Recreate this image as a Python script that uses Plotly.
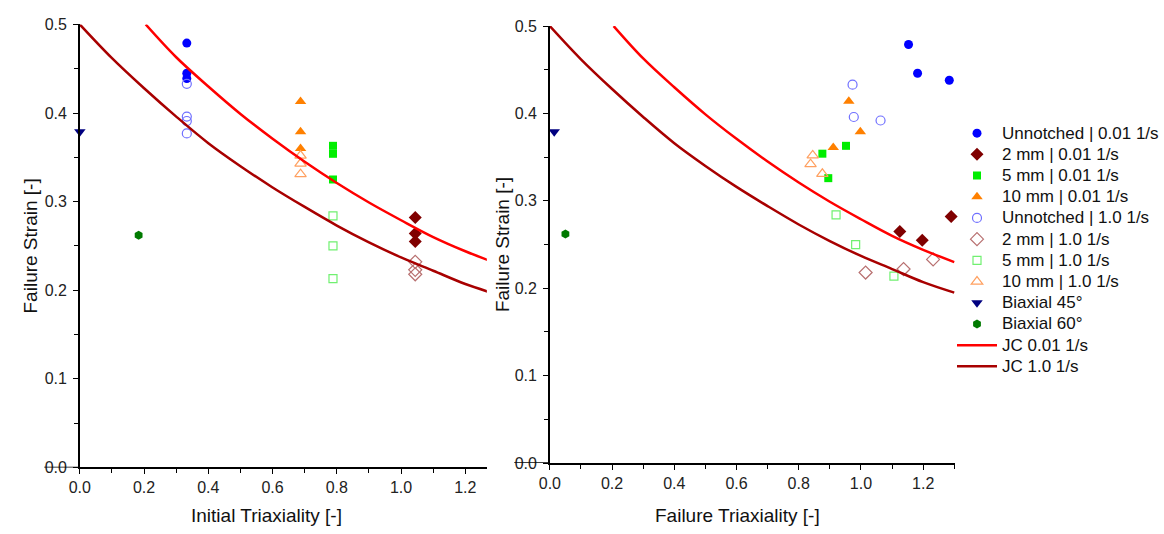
import plotly.graph_objects as go

# ---------------- data ----------------
# Left panel: initial triaxiality
L_un001_x = [0.333, 0.333, 0.333]
L_un001_y = [0.479, 0.445, 0.439]
L_d2_001_x = [1.044, 1.044, 1.044]
L_d2_001_y = [0.282, 0.264, 0.255]
L_d5_001_x = [0.788, 0.788, 0.788]
L_d5_001_y = [0.363, 0.354, 0.325]
L_d10_001_x = [0.687, 0.687, 0.687]
L_d10_001_y = [0.413, 0.379, 0.360]
L_un10_x = [0.333, 0.333, 0.333, 0.333]
L_un10_y = [0.433, 0.396, 0.391, 0.377]
L_d2_10_x = [1.044, 1.044, 1.044]
L_d2_10_y = [0.232, 0.223, 0.218]
L_d5_10_x = [0.788, 0.788, 0.788]
L_d5_10_y = [0.284, 0.250, 0.213]
L_d10_10_x = [0.687, 0.687, 0.687]
L_d10_10_y = [0.352, 0.343, 0.331]
L_bi45_x = [0.0]
L_bi45_y = [0.379]
L_bi60_x = [0.183]
L_bi60_y = [0.262]

# Right panel: failure triaxiality
R_un001_x = [1.153, 1.182, 1.284]
R_un001_y = [0.479, 0.446, 0.438]
R_d2_001_x = [1.125, 1.197, 1.290]
R_d2_001_y = [0.265, 0.255, 0.282]
R_d5_001_x = [0.876, 0.952, 0.895]
R_d5_001_y = [0.354, 0.363, 0.326]
R_d10_001_x = [0.961, 0.998, 0.911]
R_d10_001_y = [0.414, 0.379, 0.361]
R_un10_x = [0.973, 0.977, 1.063]
R_un10_y = [0.433, 0.396, 0.392]
R_d2_10_x = [1.015, 1.137, 1.232]
R_d2_10_y = [0.218, 0.222, 0.233]
R_d5_10_x = [0.920, 0.983, 1.106]
R_d5_10_y = [0.284, 0.250, 0.214]
R_d10_10_x = [0.845, 0.838, 0.876]
R_d10_10_y = [0.352, 0.342, 0.331]
R_bi45_x = [0.014]
R_bi45_y = [0.379]
R_bi60_x = [0.050]
R_bi60_y = [0.262]

# Johnson-Cook curves
jc001_eta = [0.205, 0.3, 0.4, 0.5, 0.6, 0.7, 0.8, 0.9, 1.0, 1.1, 1.2, 1.3]
jc001_eps = [0.500, 0.463, 0.430, 0.399, 0.371, 0.345, 0.321, 0.299, 0.279, 0.260, 0.244, 0.230]
jc10_eta = [0.0, 0.1, 0.2, 0.3, 0.4, 0.5, 0.6, 0.7, 0.8, 0.9, 1.0, 1.1, 1.2, 1.3]
jc10_eps = [0.500, 0.462, 0.428, 0.396, 0.366, 0.340, 0.316, 0.294, 0.273, 0.254, 0.237, 0.222, 0.207, 0.195]

x_titles = ["Initial Triaxiality [-]", "Failure Triaxiality [-]"]
y_title = "Failure Strain [-]"

# ---------------- styles ----------------
series = [
    ("Unnotched | 0.01 1/s", "un001", dict(symbol="circle", size=9, color="#0000FF")),
    ("2 mm | 0.01 1/s", "d2_001", dict(symbol="diamond", size=10, color="#800000")),
    ("5 mm | 0.01 1/s", "d5_001", dict(symbol="square", size=8, color="#00EE00")),
    ("10 mm | 0.01 1/s", "d10_001", dict(symbol="triangle-up", size=10, color="#FF8000")),
    ("Unnotched | 1.0 1/s", "un10", dict(symbol="circle-open", size=9, color="#7070FF", line=dict(width=1.2))),
    ("2 mm | 1.0 1/s", "d2_10", dict(symbol="diamond-open", size=10, color="#B87070", line=dict(width=1.2))),
    ("5 mm | 1.0 1/s", "d5_10", dict(symbol="square-open", size=8, color="#70F070", line=dict(width=1.2))),
    ("10 mm | 1.0 1/s", "d10_10", dict(symbol="triangle-up-open", size=10, color="#FFA060", line=dict(width=1.2))),
    ("Biaxial 45°", "bi45", dict(symbol="triangle-down", size=10, color="#000080")),
    ("Biaxial 60°", "bi60", dict(symbol="hexagon", size=9, color="#007A00")),
]

def big(s):
    return "<span style='font-size:17px'>" + s + "</span>"

data = dict(globals())

fig = go.Figure()
for name, key, mk in series:
    fig.add_trace(go.Scatter(x=data["L_" + key + "_x"], y=data["L_" + key + "_y"], mode="markers",
                             marker=mk, name=big(name), cliponaxis=False, xaxis="x", yaxis="y"))
for name, key, mk in series:
    fig.add_trace(go.Scatter(x=data["R_" + key + "_x"], y=data["R_" + key + "_y"], mode="markers",
                             marker=mk, name=name, cliponaxis=False, showlegend=False,
                             xaxis="x2", yaxis="y2"))

for xa, ya, show in (("x", "y", True), ("x2", "y2", False)):
    fig.add_trace(go.Scatter(x=jc001_eta, y=jc001_eps, mode="lines", line=dict(color="#FF0000", width=2.5, shape="spline"),
                             name=big("JC 0.01 1/s"), showlegend=show, xaxis=xa, yaxis=ya))
    fig.add_trace(go.Scatter(x=jc10_eta, y=jc10_eps, mode="lines", line=dict(color="#A80000", width=2.5, shape="spline"),
                             name=big("JC 1.0 1/s"), showlegend=show, xaxis=xa, yaxis=ya))

FONT = "Arial, 'Liberation Sans', sans-serif"
W, H = 1164, 534

def xax(domain, rng, anchor):
    return dict(domain=domain, range=rng, dtick=0.2, tick0=0, tickformat=".1f", anchor=anchor,
                showline=True, linecolor="black", linewidth=1.5, mirror=False,
                ticks="outside", ticklen=5, tickwidth=1.2, tickcolor="black",
                minor=dict(dtick=0.1, ticks="outside", ticklen=4, tickwidth=1.2, tickcolor="black"),
                showgrid=False, zeroline=False,
                tickfont=dict(family=FONT, size=16, color="#222222"))

def yax(domain, anchor):
    return dict(domain=domain, range=[0, 0.5], dtick=0.1, tick0=0, tickformat=".1f",
                anchor=anchor, ticklabelstandoff=3,
                showline=True, linecolor="black", linewidth=1.5,
                ticks="outside", ticklen=5, tickwidth=1.2, tickcolor="black",
                minor=dict(dtick=0.05, ticks="outside", ticklen=4, tickwidth=1.2, tickcolor="black"),
                showgrid=False, zeroline=False,
                tickfont=dict(family=FONT, size=16, color="#222222"))

LX = [69.5 / W, 480.4 / W]
RX = [544.0 / W, 952.9 / W]
LY = [(H - 474.5) / H, (H - 17.0) / H]
RY = [(H - 470.0) / H, (H - 18.7) / H]

fig.update_layout(
    width=W, height=H, margin=dict(l=0, r=0, t=0, b=0),
    paper_bgcolor="white", plot_bgcolor="white",
    font=dict(family=FONT, color="#111111"),
    xaxis=xax(LX, [0, 1.267], "y"),
    yaxis=yax(LY, "x"),
    xaxis2=xax(RX, [0, 1.302], "y2"),
    yaxis2=yax(RY, "x2"),
    legend=dict(x=950 / W, xanchor="left", y=(H - 250) / H, yanchor="middle",
                font=dict(family=FONT, size=14, color="#111111"),
                itemwidth=40, tracegroupgap=0, bgcolor="rgba(0,0,0,0)", borderwidth=0),
    showlegend=True,
)

# axis titles placed as in the original
title_font = dict(family=FONT, size=19, color="#111111")
fig.add_annotation(text=x_titles[0], xref="paper", yref="paper", x=258 / W, y=(H - 524) / H,
                   xanchor="center", yanchor="middle", showarrow=False, font=title_font)
fig.add_annotation(text=x_titles[1], xref="paper", yref="paper", x=733 / W, y=(H - 524) / H,
                   xanchor="center", yanchor="middle", showarrow=False, font=title_font)
fig.add_annotation(text=y_title, xref="paper", yref="paper", x=19.5 / W, y=(H - 246) / H, textangle=-90,
                   xanchor="center", yanchor="middle", showarrow=False, font=title_font)
fig.add_annotation(text=y_title, xref="paper", yref="paper", x=495.5 / W, y=(H - 244) / H, textangle=-90,
                   xanchor="center", yanchor="middle", showarrow=False, font=title_font)

# short strike lines through the "0.0" y labels as in the original
for dom, yref in ((LX, "y"), (RX, "y2")):
    fig.add_shape(type="line", xref="paper", yref=yref, x0=dom[0] - 36 / W, x1=dom[0], y0=0, y1=0,
                  line=dict(color="black", width=1.5))

fig.write_html("out.html")
